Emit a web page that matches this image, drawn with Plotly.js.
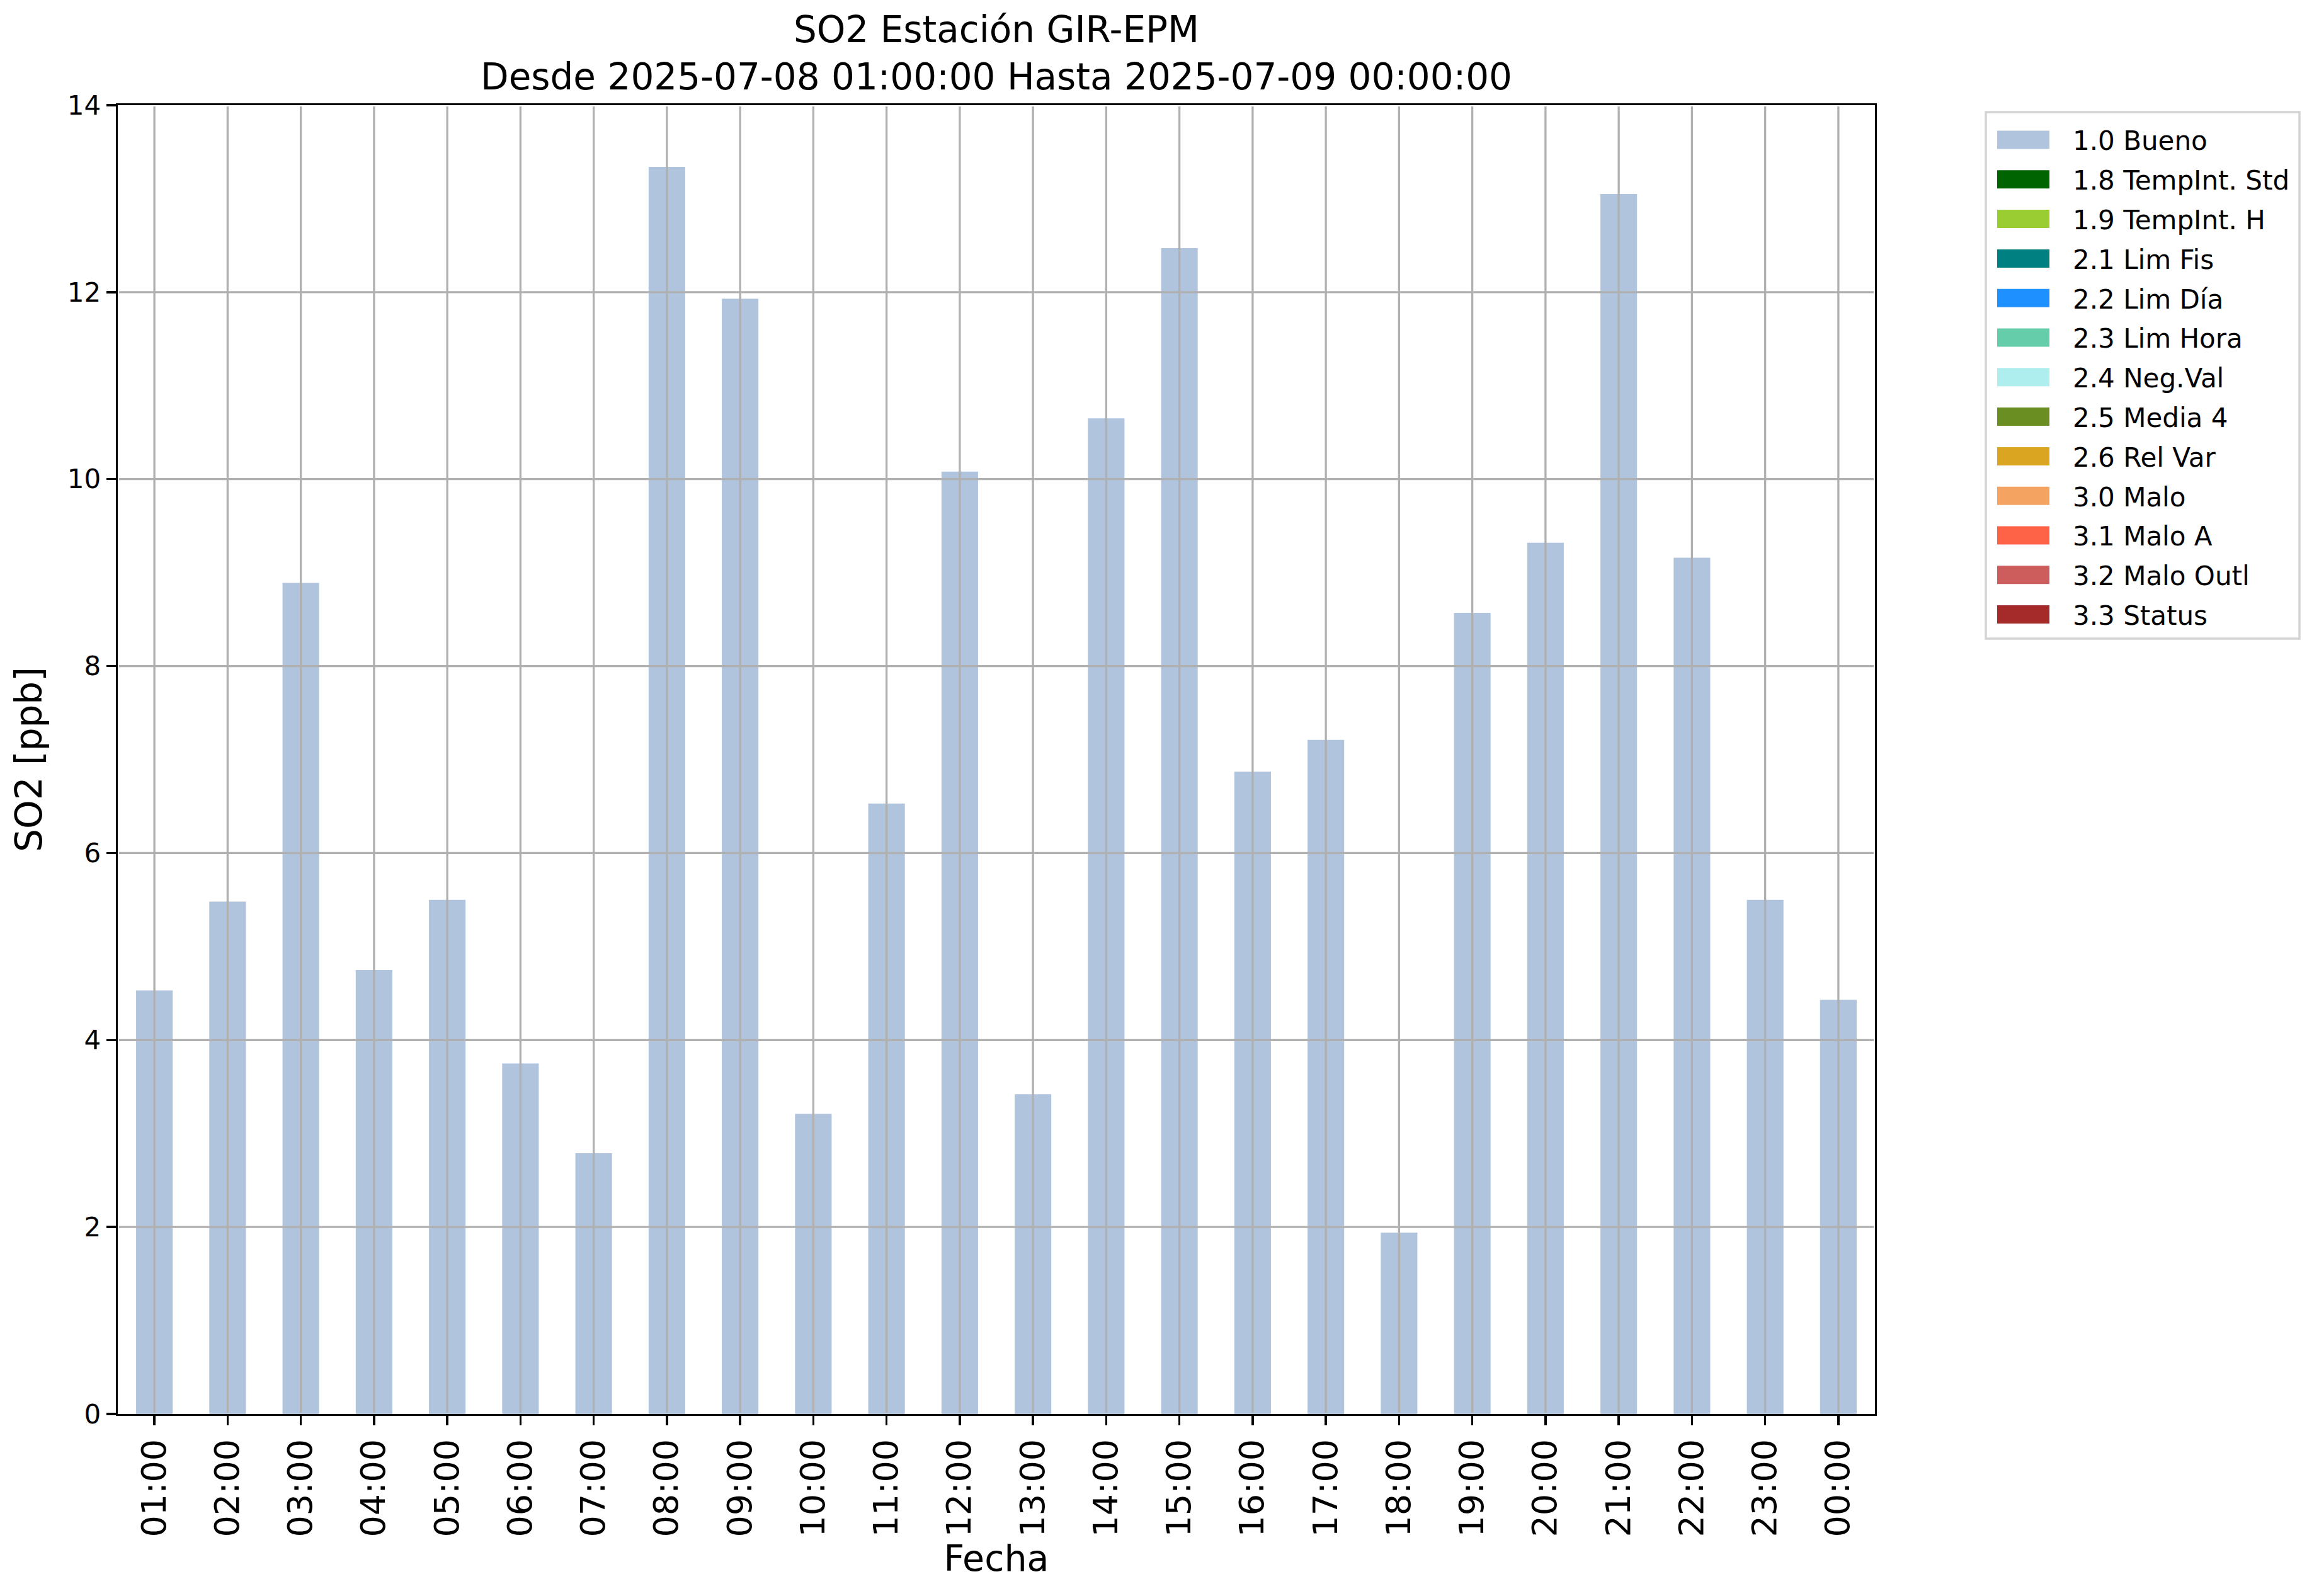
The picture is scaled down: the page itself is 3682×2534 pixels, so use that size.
<!DOCTYPE html>
<html><head><meta charset="utf-8">
<script src="https://cdn.plot.ly/plotly-3.0.1.min.js"></script>
<style>html,body{margin:0;padding:0;background:#fff}#chart{width:3682px;height:2534px}</style>
</head><body><div id="chart"></div>
<script>
// ---- data ----
const hours = ["01:00","02:00","03:00","04:00","05:00","06:00","07:00","08:00","09:00","10:00","11:00","12:00",
               "13:00","14:00","15:00","16:00","17:00","18:00","19:00","20:00","21:00","22:00","23:00","00:00"];
const so2Bueno = [4.53,5.48,8.89,4.75,5.50,3.75,2.79,13.34,11.93,3.21,6.53,10.08,
                  3.42,10.65,12.47,6.87,7.21,1.94,8.57,9.32,13.05,9.16,5.50,4.43];
const flagNames = ["1.0 Bueno","1.8 TempInt. Std","1.9 TempInt. H","2.1 Lim Fis","2.2 Lim Día","2.3 Lim Hora",
                   "2.4 Neg.Val","2.5 Media 4","2.6 Rel Var","3.0 Malo","3.1 Malo A","3.2 Malo Outl","3.3 Status"];
const flagColors = ["#B0C4DE","#006400","#9ACD32","#008080","#1E90FF","#66CDAA",
                    "#AFEEEE","#6B8E23","#DAA520","#F4A460","#FF6347","#CD5C5C","#A52A2A"];
const flagValues = [so2Bueno, [], [], [], [], [], [], [], [], [], [], [], []];
const yTicks = [0,2,4,6,8,10,12,14];
const titleText = "SO2 Estación GIR-EPM<br>Desde 2025-07-08 01:00:00 Hasta 2025-07-09 00:00:00";

// ---- frame (pixels) ----
const W = 3682, H = 2534, L = 187, R = 2977, T = 167, B = 2245;
const px2x = p => (p - L) / (R - L);
const px2y = p => (B - p) / (B - T);
const FONT = "DejaVu Sans, sans-serif";

const traces = flagNames.map((name, k) => ({
  type: "bar",
  name: name,
  x: flagValues[k].length ? hours : [],
  y: flagValues[k],
  marker: {color: flagColors[k], line: {width: 0}},
  showlegend: false,
  hoverinfo: "x+y+name"
}));

const shapes = [];
const inset = 2 / (B - T);
hours.forEach((h, i) => shapes.push({
  type: "line", xref: "x", yref: "paper", x0: i, x1: i, y0: inset, y1: 1 - inset,
  line: {color: "#b0b0b0", width: 3.3}, layer: "above"
}));
yTicks.filter(v => v > yTicks[0] && v < yTicks[yTicks.length - 1]).forEach(v => shapes.push({
  type: "line", xref: "paper", yref: "y", x0: 2 / (R - L), x1: 1 - 2 / (R - L), y0: v, y1: v,
  line: {color: "#b0b0b0", width: 3.3}, layer: "above"
}));

// manual legend in matplotlib style
const legLeft = 3153, legRight = 3651, legTop = 178, legBottom = 1014;
shapes.push({
  type: "rect", xref: "paper", yref: "paper",
  x0: px2x(legLeft), x1: px2x(legRight), y0: px2y(legBottom), y1: px2y(legTop),
  line: {color: "#d4d4d4", width: 3.5}, fillcolor: "rgba(255,255,255,0.8)", layer: "above"
});
const annotations = [];
const row0 = 222, rowPitch = 62.8;
flagNames.forEach((name, k) => {
  const cy = row0 + k * rowPitch;
  shapes.push({
    type: "rect", xref: "paper", yref: "paper",
    x0: px2x(3171), x1: px2x(3254), y0: px2y(cy + 14.5), y1: px2y(cy - 14.5),
    line: {width: 0}, fillcolor: flagColors[k], layer: "above"
  });
  annotations.push({
    xref: "paper", yref: "paper", x: px2x(3289), y: px2y(cy + 2),
    xanchor: "left", yanchor: "middle", showarrow: false, text: name,
    font: {family: FONT, size: 42, color: "#000"}
  });
});

const layout = {
  width: W, height: H,
  margin: {l: L, r: W - R, t: T, b: H - B, pad: 0},
  paper_bgcolor: "#fff", plot_bgcolor: "#fff",
  font: {family: FONT, color: "#000", size: 42},
  showlegend: false,
  barmode: "stack",
  bargap: 0.5,
  title: {
    text: titleText, font: {family: FONT, size: 58, color: "#000"},
    x: 0.5, xref: "paper", xanchor: "center",
    y: 1 - 67 / H, yref: "container", yanchor: "top"
  },
  xaxis: {
    type: "category", categoryorder: "array", categoryarray: hours,
    range: [-0.5, hours.length - 0.5],
    showgrid: false, zeroline: false,
    showline: true, mirror: true, linecolor: "#000", linewidth: 3.3,
    ticks: "outside", ticklen: 15, tickwidth: 3.3, tickcolor: "#000",
    tickangle: -90, tickfont: {family: FONT, size: 54, color: "#000"},
    title: {text: "Fecha", font: {family: FONT, size: 57, color: "#000"}, standoff: 12},
    automargin: false
  },
  yaxis: {
    range: [yTicks[0], yTicks[yTicks.length - 1]],
    tickmode: "array", tickvals: yTicks, ticktext: yTicks.map(String),
    showgrid: false, zeroline: false,
    showline: true, mirror: true, linecolor: "#000", linewidth: 3.3,
    ticks: "outside", ticklen: 15, tickwidth: 3.3, tickcolor: "#000",
    tickfont: {family: FONT, size: 42, color: "#000"},
    title: {text: "SO2 [ppb]", font: {family: FONT, size: 58, color: "#000"}, standoff: 22},
    automargin: false
  },
  shapes: shapes,
  annotations: annotations
};

Plotly.newPlot("chart", traces, layout, {staticPlot: true, displayModeBar: false});
</script>
</body></html>
